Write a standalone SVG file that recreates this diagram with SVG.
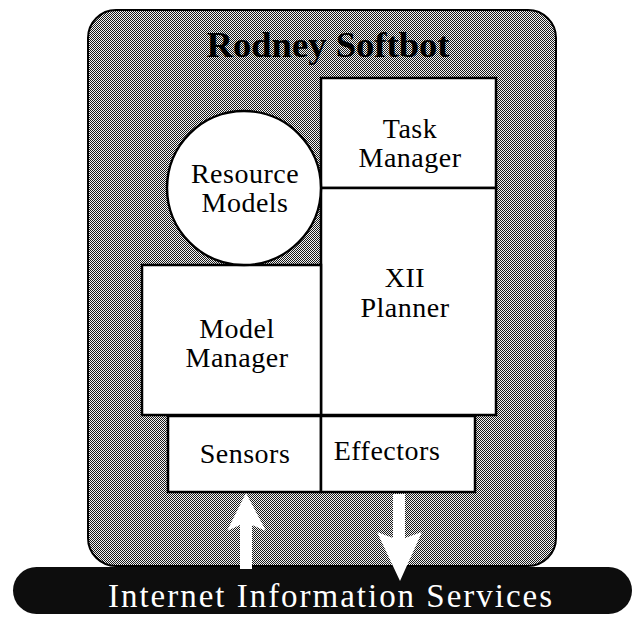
<svg xmlns="http://www.w3.org/2000/svg" width="638" height="618" viewBox="0 0 638 618">
  <defs>
    <pattern id="halftone" patternUnits="userSpaceOnUse" width="2" height="2">
      <rect width="2" height="2" fill="#f4f4f4"/>
      <rect x="0" y="0" width="1" height="1" fill="#1a1a1a"/>
      <rect x="1" y="1" width="1" height="1" fill="#1a1a1a"/>
    </pattern>
  </defs>
  <style>
    .box { fill: #fff; stroke: #000; stroke-width: 2.5; }
    .lbl { font-family: "Liberation Serif", "Times New Roman", serif; font-size: 28px; letter-spacing: 0.5px; text-anchor: middle; fill: #000; }
    .arrow { fill: #fff; stroke: none; }
  </style>
  <rect width="638" height="618" fill="#fff"/>

  <g id="softbot">
    <rect x="88" y="10" width="468" height="556" rx="28" ry="28" fill="url(#halftone)" stroke="#000" stroke-width="2"/>
    <text x="328" y="57" font-family="'Liberation Serif', 'Times New Roman', serif" font-size="35" font-weight="bold" text-anchor="middle" fill="#000" textLength="243" lengthAdjust="spacingAndGlyphs">Rodney Softbot</text>
  </g>

  <g id="internet">
    <rect x="13" y="567" width="619" height="47" rx="23.5" ry="23.5" fill="#0d0d0d"/>
    <text x="108" y="607" font-family="'Liberation Serif', 'Times New Roman', serif" font-size="33" fill="#fff" textLength="444" lengthAdjust="spacing">Internet Information Services</text>
  </g>

  <g id="task-manager">
    <rect class="box" x="321" y="78" width="175" height="110"/>
    <text class="lbl" x="410" y="138">Task</text>
    <text class="lbl" x="410" y="167">Manager</text>
  </g>

  <g id="xii-planner">
    <rect class="box" x="321" y="188" width="175" height="227"/>
    <text class="lbl" x="405" y="287">XII</text>
    <text class="lbl" x="405" y="317">Planner</text>
  </g>

  <g id="model-manager">
    <rect class="box" x="142" y="265" width="179" height="150"/>
    <text class="lbl" x="237" y="338">Model</text>
    <text class="lbl" x="237" y="367">Manager</text>
  </g>

  <g id="resource-models">
    <circle class="box" cx="244" cy="188" r="77"/>
    <text class="lbl" x="245" y="183">Resource</text>
    <text class="lbl" x="245" y="212">Models</text>
  </g>

  <g id="sensors">
    <rect class="box" x="168" y="416" width="153" height="76"/>
    <text class="lbl" x="245" y="463">Sensors</text>
  </g>

  <g id="effectors">
    <rect class="box" x="321" y="416" width="154" height="76"/>
    <text class="lbl" x="387" y="460">Effectors</text>
  </g>

  <g id="connectors">
    <polygon class="arrow" points="246,493 266,531 252,525 252,569 240,569 240,525 227,531"/>
    <polygon class="arrow" points="393,494 405,494 405,538 422,532 400,581 377,532 393,538"/>
  </g>
</svg>
